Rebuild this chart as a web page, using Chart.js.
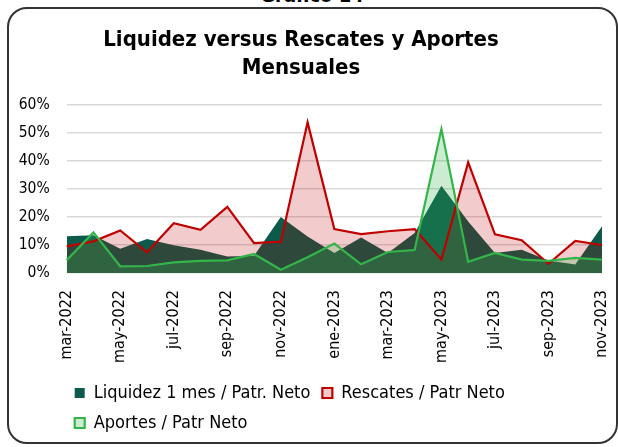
<!DOCTYPE html>
<html><head><meta charset="utf-8">
<script src="https://cdn.jsdelivr.net/npm/chart.js@4.4.0/dist/chart.umd.min.js"></script>
<style>
html,body{margin:0;padding:0;background:#fff;width:618px;height:447px;overflow:hidden;}
#wrap{position:relative;width:618px;height:447px;overflow:hidden;}
#frame{position:absolute;left:7px;top:7px;width:611px;height:437px;border:2px solid #333;border-radius:20px;box-sizing:border-box;}
#hdr{position:absolute;left:0;width:624px;top:-15px;text-align:center;font:bold 20px "DejaVu Sans Condensed","DejaVu Sans",sans-serif;color:#000;line-height:20px;}
canvas{position:absolute;left:0;top:0;}
</style></head><body>
<div id="wrap"><div id="hdr">Gráfico 14</div><div id="frame"></div><canvas id="c" width="618" height="447"></canvas></div>
<script>
const labels = ['mar-2022','abr-2022','may-2022','jun-2022','jul-2022','ago-2022','sep-2022','oct-2022','nov-2022','dic-2022','ene-2023','feb-2023','mar-2023','abr-2023','may-2023','jun-2023','jul-2023','ago-2023','sep-2023','oct-2023','nov-2023'];
const liquidez = [13.1, 13.5, 8.7, 12.1, 9.9, 8.3, 5.9, 6.2, 20.0, 13.0, 7.1, 12.7, 7.1, 14.3, 31.2, 18.4, 7.1, 8.3, 4.5, 3.0, 16.7];
const rescates = [9.5, 11.3, 15.2, 7.4, 17.8, 15.4, 23.6, 10.7, 11.2, 53.8, 15.7, 13.9, 14.9, 15.7, 4.8, 39.5, 13.8, 11.7, 3.3, 11.5, 10.0];
const aportes = [4.6, 14.5, 2.4, 2.5, 3.8, 4.3, 4.5, 6.8, 1.2, 5.6, 10.5, 3.1, 7.5, 8.2, 51.4, 4.0, 7.2, 4.8, 4.3, 5.4, 4.8];
const seriesNames = ['Liquidez 1 mes / Patr. Neto', 'Rescates / Patr Neto', 'Aportes / Patr Neto'];
const titleLines = ['Liquidez versus Rescates y Aportes', 'Mensuales'];

const FONT = '"DejaVu Sans Condensed", "DejaVu Sans", sans-serif';

const shiftLegend = {
  id: 'shiftLegend',
  afterLayout(chart) {
    const l = chart.legend;
    if (l) { l.left -= 4; l.right -= 4; }
  }
};

new Chart(document.getElementById('c'), {
  type: 'line',
  data: {
    labels: labels,
    datasets: [
      { label: seriesNames[2], data: aportes, borderColor: '#33B54A', backgroundColor: 'rgba(51,181,74,0.25)', borderWidth: 2.2, fill: 'origin', pointRadius: 0, tension: 0 },
      { label: seriesNames[1], data: rescates, borderColor: '#C00000', backgroundColor: 'rgba(192,0,0,0.2)', borderWidth: 2.2, fill: 'origin', pointRadius: 0, tension: 0 },
      { label: seriesNames[0], data: liquidez, borderColor: '#0C5A4C', backgroundColor: '#0C5A4C', borderWidth: 0, fill: 'origin', pointRadius: 0, tension: 0 }
    ]
  },
  options: {
    responsive: false,
    animation: false,
    devicePixelRatio: 1,
    layout: { padding: { left: 0, right: 16, top: 0, bottom: 5 } },
    plugins: {
      filler: { drawTime: 'beforeDatasetsDraw' },
      title: {
        display: true, text: titleLines, color: '#000',
        font: { family: FONT, size: 22, weight: 'bold', lineHeight: '28px' },
        padding: { top: 26, bottom: 23 }
      },
      legend: {
        position: 'bottom', align: 'start', fullSize: false,
        labels: {
          sort: (a, b) => b.datasetIndex - a.datasetIndex,
          boxWidth: 10, boxHeight: 10, padding: 12, color: '#000',
          font: { family: FONT, size: 18 }
        }
      },
      tooltip: { enabled: false }
    },
    scales: {
      x: {
        grid: { display: false, drawTicks: false },
        border: { display: false },
        ticks: {
          autoSkip: false, maxRotation: 90, minRotation: 90, padding: 17, color: '#000',
          font: { family: FONT, size: 16 },
          callback: (v, i) => (i % 2 === 0 ? labels[i] : '')
        },
        afterFit(s) { s.height = 99; s.paddingLeft = 0; s.paddingRight = 0; }
      },
      y: {
        min: 0, max: 60,
        grid: { color: '#d9d9d9', lineWidth: 1.5, drawTicks: false },
        border: { display: false },
        ticks: { stepSize: 10, padding: 17, color: '#000', font: { family: FONT, size: 15.5 }, callback: v => v + '%' },
        afterFit(s) { s.width = 66.7; }
      }
    }
  },
  plugins: [shiftLegend]
});
</script>
</body></html>
